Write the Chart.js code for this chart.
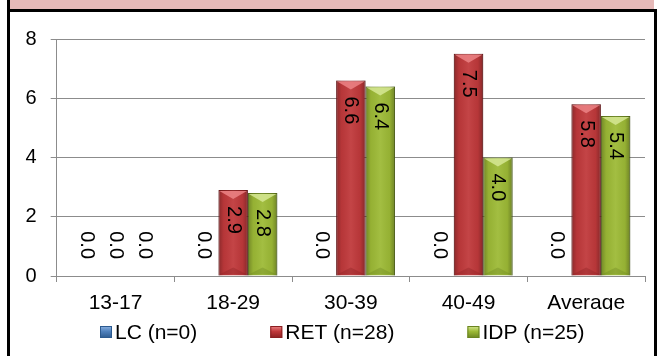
<!DOCTYPE html>
<html>
<head>
<meta charset="utf-8">
<script src="https://cdn.jsdelivr.net/npm/chart.js@4.4.0/dist/chart.umd.min.js"></script>
<style>
body { margin: 0; background: #fff; width: 659px; height: 356px; overflow: hidden; position: relative; }
#band { position: absolute; left: 7px; top: 0; width: 644px; height: 9px; background: #E6B9B8; border-left: 3px solid #000; }
#frame { position: absolute; left: 7px; top: 9px; width: 644px; height: 360px; border: 3px solid #000; border-bottom: none; }
#box { position: absolute; left: 0; top: 0; width: 644px; height: 344px; }
</style>
</head>
<body>
<div id="band"></div>
<div id="frame"><div id="box"><canvas id="ageChart"></canvas></div></div>
<script>
const categories = ['13-17', '18-29', '30-39', '40-49', 'Average'];
const lcValues = [0.0, 0.0, 0.0, 0.0, 0.0];
const retValues = [0.0, 2.9, 6.6, 7.5, 5.8];
const idpValues = [0.0, 2.8, 6.4, 4.0, 5.4];
const seriesNames = ['LC (n=0)', 'RET (n=28)', 'IDP (n=25)'];
const yTicks = [0, 2, 4, 6, 8];

const FONT = '"Liberation Sans", Arial, sans-serif';
const palette = [
    { fill: '#4F81BD', dark: '#2C5A8F', light: '#8DB3E2' },
    { fill: '#C0393B', dark: '#8A1F21', light: '#EC8486' },
    { fill: '#9DBA36', dark: '#6A8420', light: '#D6E894' }
];

// shaded bevel on top of each bar
const bevelBars = {
    id: 'bevelBars',
    afterDatasetsDraw(chart) {
        const ctx = chart.ctx;
        chart.data.datasets.forEach((ds, i) => {
            const meta = chart.getDatasetMeta(i);
            meta.data.forEach((bar, j) => {
                if (!ds.data[j]) return;
                const l = bar.x - bar.width / 2, r = bar.x + bar.width / 2;
                const top = bar.y, base = bar.base;
                ctx.save();
                const g = ctx.createLinearGradient(l, 0, r, 0);
                g.addColorStop(0, 'rgba(0,0,0,0.28)');
                g.addColorStop(0.18, 'rgba(0,0,0,0.05)');
                g.addColorStop(0.5, 'rgba(255,255,255,0.06)');
                g.addColorStop(0.82, 'rgba(0,0,0,0.05)');
                g.addColorStop(1, 'rgba(0,0,0,0.3)');
                ctx.fillStyle = g;
                ctx.fillRect(l, top, r - l, base - top);
                ctx.beginPath();
                ctx.moveTo(l + 1, top + 1);
                ctx.lineTo(r - 1, top + 1);
                ctx.lineTo(bar.x, top + 9);
                ctx.closePath();
                ctx.fillStyle = palette[i].light;
                ctx.globalAlpha = 0.85;
                ctx.fill();
                ctx.beginPath();
                ctx.moveTo(l + 1, base - 1);
                ctx.lineTo(r - 1, base - 1);
                ctx.lineTo(bar.x, base - 8);
                ctx.closePath();
                ctx.fillStyle = palette[i].dark;
                ctx.globalAlpha = 0.35;
                ctx.fill();
                ctx.restore();
            });
        });
    }
};

// vertical value labels, reading top to bottom
const valueLabels = {
    id: 'valueLabels',
    afterDatasetsDraw(chart) {
        const ctx = chart.ctx;
        ctx.save();
        ctx.font = '20px ' + FONT;
        ctx.fillStyle = '#000';
        ctx.textBaseline = 'middle';
        chart.data.datasets.forEach((ds, i) => {
            const meta = chart.getDatasetMeta(i);
            meta.data.forEach((bar, j) => {
                const v = ds.data[j];
                const txt = v.toFixed(1);
                ctx.save();
                if (v > 0) {
                    ctx.translate(bar.x, bar.y + 16);
                    ctx.rotate(Math.PI / 2);
                    ctx.textAlign = 'left';
                } else {
                    ctx.translate(bar.x, bar.base - 17);
                    ctx.rotate(Math.PI / 2);
                    ctx.textAlign = 'right';
                }
                ctx.fillText(txt, 0, 0);
                ctx.restore();
            });
        });
        ctx.restore();
    }
};

// legend row under the axis
const bottomLegend = {
    id: 'bottomLegend',
    afterDraw(chart) {
        const ctx = chart.ctx;
        ctx.save();
        ctx.font = '21px ' + FONT;
        ctx.textBaseline = 'middle';
        ctx.textAlign = 'left';
        const cy = 320;
        let x = 90;
        chart.data.datasets.forEach((ds, i) => {
            const p = palette[i];
            const g = ctx.createLinearGradient(0, cy - 6, 0, cy + 6);
            g.addColorStop(0, p.light);
            g.addColorStop(0.45, p.fill);
            g.addColorStop(1, p.dark);
            ctx.fillStyle = g;
            ctx.fillRect(x, cy - 6, 12, 12);
            ctx.strokeStyle = p.dark;
            ctx.lineWidth = 1;
            ctx.strokeRect(x + 0.5, cy - 5.5, 11, 11);
            ctx.fillStyle = '#000';
            ctx.fillText(ds.label, x + 15, cy + 1);
            x += 15 + ctx.measureText(ds.label).width + 73;
        });
        ctx.restore();
    }
};

const gridGray = '#8C8C8C';

new Chart(document.getElementById('ageChart'), {
    type: 'bar',
    data: {
        labels: categories,
        datasets: [lcValues, retValues, idpValues].map((vals, i) => ({
            label: seriesNames[i],
            data: vals,
            backgroundColor: palette[i].fill,
            borderColor: palette[i].dark,
            borderWidth: 1,
            categoryPercentage: 0.75,
            barPercentage: 1.0
        }))
    },
    options: {
        responsive: true,
        maintainAspectRatio: false,
        animation: false,
        layout: { padding: { left: 0, right: 9, top: 27, bottom: 46 } },
        plugins: {
            legend: { display: false },
            tooltip: { enabled: false }
        },
        scales: {
            x: {
                afterFit: (scale) => { scale.height = 34; },
                grid: { display: true, drawOnChartArea: false, offset: true, color: gridGray, tickLength: 6 },
                border: { color: gridGray, width: 1 },
                ticks: { color: '#000', font: { family: FONT, size: 21 }, padding: 9, maxRotation: 0 }
            },
            y: {
                min: 0,
                max: 8,
                afterFit: (scale) => { scale.width = 46.7; },
                afterBuildTicks: (scale) => { scale.ticks = yTicks.map(v => ({ value: v })); },
                grid: { color: gridGray, tickLength: 6 },
                border: { color: gridGray, width: 1 },
                ticks: { color: '#000', font: { family: FONT, size: 20 }, padding: 14 }
            }
        }
    },
    plugins: [bevelBars, valueLabels, bottomLegend]
});
</script>
</body>
</html>
